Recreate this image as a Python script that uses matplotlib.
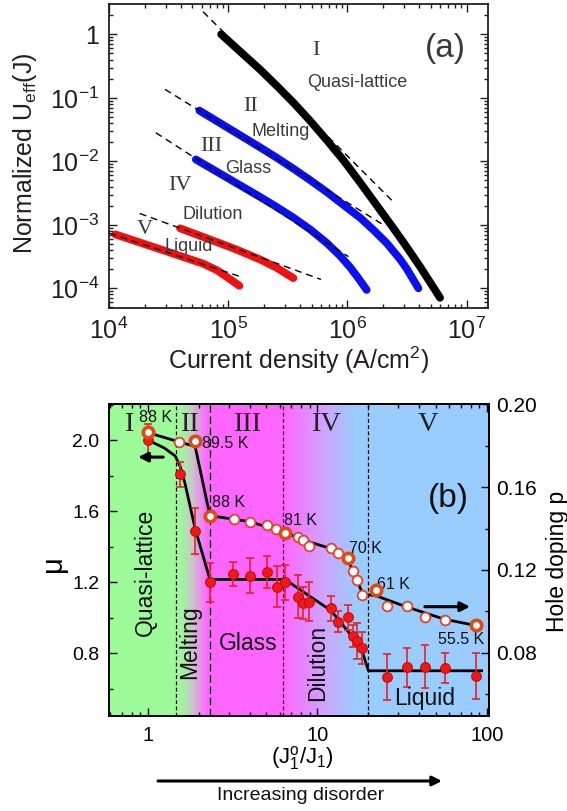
import numpy as np
import matplotlib
matplotlib.use('Agg')
import matplotlib.pyplot as plt
from matplotlib.ticker import LogLocator, NullFormatter, FixedLocator, FixedFormatter, MultipleLocator
from matplotlib.colors import to_rgb

plt.rcParams['font.family'] = ['Liberation Sans', 'DejaVu Sans']
plt.rcParams['mathtext.fontset'] = 'custom'
plt.rcParams['mathtext.rm'] = 'Liberation Sans'
plt.rcParams['mathtext.it'] = 'Liberation Sans:italic'
plt.rcParams['mathtext.bf'] = 'Liberation Sans:bold'

# ---------------- Panel (a) data ----------------
black_J = [8.73e4, 1.85e5, 2.55e5, 3.52e5, 4.85e5, 6.70e5, 9.25e5, 1.28e6, 1.76e6, 2.43e6, 3.14e6, 4.06e6, 4.93e6, 5.98e6]
black_U = [1.0, 0.279, 0.155, 0.0841, 0.0437, 0.0216, 0.0104, 4.62e-3, 2.03e-3, 8.85e-4, 4.47e-4, 2.20e-4, 1.25e-4, 7.1e-5]

blue2_J = [5.73e4, 1.85e5, 2.55e5, 3.52e5, 4.85e5, 6.70e5, 9.25e5, 1.28e6, 1.65e6, 2.14e6, 2.76e6, 3.14e6, 3.94e6]
blue2_U = [0.0631, 0.0166, 0.0114, 7.67e-3, 5.08e-3, 3.29e-3, 2.06e-3, 1.29e-3, 8.32e-4, 5.13e-4, 2.88e-4, 2.04e-4, 1.0e-4]

blue3_J = [5.35e4, 1.85e5, 2.55e5, 3.52e5, 4.85e5, 6.70e5, 8.65e5, 1.05e6, 1.23e6, 1.45e6]
blue3_U = [0.0107, 2.75e-3, 1.91e-3, 1.30e-3, 8.51e-4, 5.19e-4, 3.27e-4, 2.16e-4, 1.46e-4, 9.44e-5]

red4_J = [3.95e4, 8.13e4, 1.16e5, 1.85e5, 2.55e5, 3.52e5]
red4_U = [8.81e-4, 5.31e-4, 4.12e-4, 2.85e-4, 2.11e-4, 1.45e-4]

red5_J = [1.13e4, 2.85e4, 6.15e4, 8.13e4, 1.24e5]
red5_U = [7.08e-4, 3.98e-4, 2.45e-4, 1.91e-4, 1.10e-4]

# power-law fits (dashed), end points
fit_black_J = [6.15e4, 2.43e6]; fit_black_U = [2.27, 2.29e-3]
fit_blue2_J = [2.95e4, 2.0e6]; fit_blue2_U = [0.136, 1.0e-3]
fit_blue3_J = [2.47e4, 1.02e6]; fit_blue3_U = [0.0282, 3.16e-4]
fit_red4_J = [1.81e4, 6.0e5]; fit_red4_U = [1.51e-3, 1.38e-4]
fit_red5_J = [1.0e4, 1.24e5]; fit_red5_U = [7.41e-4, 1.55e-4]

a_xticks = [1e4, 1e5, 1e6, 1e7]
a_xticklabels = [r'$\mathregular{10^{4}}$', r'$\mathregular{10^{5}}$', r'$\mathregular{10^{6}}$', r'$\mathregular{10^{7}}$']
a_yticks = [1e-4, 1e-3, 1e-2, 1e-1, 1]
a_yticklabels = [r'$\mathregular{10^{-4}}$', r'$\mathregular{10^{-3}}$', r'$\mathregular{10^{-2}}$', r'$\mathregular{10^{-1}}$', '1']

# ---------------- Panel (b) data ----------------
mu_x = [1.0, 1.545, 1.89, 2.32, 3.19, 4.0, 5.01, 5.74, 6.43, 7.64, 8.18, 8.95, 12.1, 13.3, 15.2, 16.3, 17.2, 18.2, 25.8, 33.6, 43.1, 56.5, 86.1]
mu = [2.0, 1.808, 1.489, 1.198, 1.245, 1.236, 1.258, 1.174, 1.198, 1.117, 1.080, 1.089, 1.052, 0.976, 1.001, 0.896, 0.869, 0.830, 0.667, 0.719, 0.723, 0.714, 0.670]
mu_err = [0.09, 0.07, 0.13, 0.11, 0.07, 0.10, 0.09, 0.115, 0.10, 0.12, 0.09, 0.11, 0.07, 0.06, 0.07, 0.06, 0.10, 0.09, 0.13, 0.11, 0.12, 0.085, 0.13]
mu_fit_x = [1.0, 1.25, 1.45, 1.55, 1.65, 1.9, 2.32, 6.43, 9.0, 12.0, 15.5, 18.2, 20.0, 93.0]
mu_fit = [2.0, 1.955, 1.91, 1.85, 1.76, 1.5, 1.215, 1.215, 1.12, 1.04, 0.91, 0.82, 0.70, 0.70]

p_x = [1.0, 1.53, 1.89, 2.32, 3.23, 4.0, 5.01, 5.69, 6.43, 7.64, 8.26, 8.95, 12.0, 13.3, 15.2, 16.1, 17.2, 18.2, 22.3, 25.8, 33.6, 43.1, 56.5, 86.1]
p = [0.1867, 0.1818, 0.1823, 0.1462, 0.1446, 0.1433, 0.1417, 0.1398, 0.1380, 0.1360, 0.1345, 0.1316, 0.1305, 0.1283, 0.1256, 0.1195, 0.1152, 0.1080, 0.1104, 0.1028, 0.1027, 0.0975, 0.0959, 0.0935]
p_labelled = [0, 2, 3, 8, 14, 18, 23]
p_labels = ['88 K', '89.5 K', '88 K', '81 K', '70 K', '61 K', '55.5 K']
p_fit_x = [1.0, 1.9, 2.32, 4.0, 6.43, 9.0, 12.0, 14.5, 15.2, 16.1, 17.2, 18.5, 22.3, 33.6, 56.5, 93.0]
p_fit = [0.1862, 0.1795, 0.1462, 0.1433, 0.1380, 0.1335, 0.1303, 0.1270, 0.1250, 0.1195, 0.1145, 0.1085, 0.1075, 0.1022, 0.0962, 0.0927]

boundaries = [1.46, 2.32, 6.3, 20.0]
regimes = ['I', 'II', 'III', 'IV', 'V']
regime_names = ['Quasi-lattice', 'Melting', 'Glass', 'Dilution', 'Liquid']

b_xticks = [1, 10, 100]
b_xticklabels = ['1', '10', '100']
mu_ticks = [0.8, 1.2, 1.6, 2.0]
mu_ticklabels = ['0.8', '1.2', '1.6', '2.0']
p_ticks = [0.08, 0.12, 0.16, 0.20]
p_ticklabels = ['0.08', '0.12', '0.16', '0.20']

TXT = '#231F20'
GRAY = '#3A3A3A'

fig = plt.figure(figsize=(5.67, 8.11), dpi=100)

# ================= Panel (a) =================
axa = fig.add_axes([0.1922, 0.6202, 0.6685, 0.3745])
axa.set_xscale('log'); axa.set_yscale('log')
axa.set_xlim(1e4, 1.51e7)
axa.set_ylim(4.9e-5, 2.97)

curve_kw = dict(lw=5.6, solid_capstyle='round', solid_joinstyle='round', zorder=2)
axa.plot(black_J, black_U, color='black', **curve_kw)
axa.plot(blue2_J, blue2_U, color='#0A10F0', **curve_kw)
axa.plot(blue3_J, blue3_U, color='#0A10F0', **curve_kw)
axa.plot(red4_J, red4_U, color='#F01010', **curve_kw)
axa.plot(red5_J, red5_U, color='#F01010', **curve_kw)

fit_kw = dict(color='black', lw=1.0, dashes=(5, 3.5), zorder=3)
for fj, fu in [(fit_black_J, fit_black_U), (fit_blue2_J, fit_blue2_U), (fit_blue3_J, fit_blue3_U),
               (fit_red4_J, fit_red4_U), (fit_red5_J, fit_red5_U)]:
    axa.plot(fj, fu, **fit_kw)

axa.xaxis.set_major_locator(FixedLocator(a_xticks))
axa.xaxis.set_major_formatter(FixedFormatter(a_xticklabels))
axa.xaxis.set_minor_locator(LogLocator(base=10, subs=np.arange(2, 10), numticks=100))
axa.xaxis.set_minor_formatter(NullFormatter())
axa.yaxis.set_major_locator(FixedLocator(a_yticks))
axa.yaxis.set_major_formatter(FixedFormatter(a_yticklabels))
axa.yaxis.set_minor_locator(LogLocator(base=10, subs=np.arange(2, 10), numticks=100))
axa.yaxis.set_minor_formatter(NullFormatter())
axa.tick_params(which='both', direction='in', top=True, right=True, colors=TXT, width=1.0)
axa.tick_params(which='major', length=6, labelsize=18, pad=7)
axa.tick_params(which='minor', length=3)
for s in axa.spines.values():
    s.set_linewidth(1.3); s.set_color(TXT)

axa.set_xlabel(r'Current density (A/cm$^{\mathregular{2}}$)', fontsize=18, color=TXT, va='center')
axa.xaxis.set_label_coords(0.5, -0.172)
axa.set_ylabel(r'Normalized U$_{\mathregular{eff}}$(J)', fontsize=18, color=TXT, va='center')
axa.yaxis.set_label_coords(-0.222, 0.51)

serif = ['Liberation Serif', 'DejaVu Serif']
a_num_pos = [(0.547, 0.849), (0.3726, 0.665), (0.2702, 0.531), (0.1879, 0.405), (0.095, 0.257)]
a_name_pos = [(0.654, 0.741), (0.4538, 0.5805), (0.3678, 0.46), (0.2749, 0.3085), (0.2098, 0.204)]
for r, (x, y) in zip(regimes, a_num_pos):
    axa.text(x, y, r, transform=axa.transAxes, fontsize=16, family=serif, color=GRAY, ha='center', va='center')
for n, (x, y) in zip(regime_names, a_name_pos):
    axa.text(x, y, n, transform=axa.transAxes, fontsize=13, color=GRAY, ha='center', va='center')
axa.text(0.8865, 0.856, '(a)', transform=axa.transAxes, fontsize=24, color=GRAY, ha='center', va='center')

# ================= Panel (b) =================
axb = fig.add_axes([0.1922, 0.1171, 0.6702, 0.3847])
axb.set_xscale('log')
xlo, xhi = 0.589, 102.8
axb.set_xlim(xlo, xhi)
axb.set_ylim(0.445, 2.203)

# background gradient (style)
green = np.array(to_rgb('#9CFA99'))
gray = np.array(to_rgb('#CBC3CB'))
magenta = np.array(to_rgb('#FF66FF'))
lav = np.array(to_rgb('#CDA6FF'))
blue = np.array(to_rgb('#99CCFF'))
stops = [-0.4, 0.19, 0.265, 0.35, 0.80, 1.05, 1.23, 2.2]
cols = np.array([green, green, gray, magenta, magenta, lav, blue, blue])
edges = np.logspace(np.log10(xlo), np.log10(xhi), 401)
for i in range(len(edges) - 1):
    lx = 0.5 * (np.log10(edges[i]) + np.log10(edges[i + 1]))
    c = [np.interp(lx, stops, cols[:, k]) for k in range(3)]
    axb.axvspan(edges[i], edges[i + 1] * 1.001, color=c, lw=0, antialiased=False, zorder=0)

for k, bx in enumerate(boundaries):
    axb.axvline(bx, color='black', lw=0.9, dashes=(6, 3) if k == 1 else (3, 2), zorder=1)

axb.plot(mu_fit_x, mu_fit, color='black', lw=2.0, zorder=3)
axb.errorbar(mu_x, mu, yerr=mu_err, fmt='none', ecolor='#E8222A', elinewidth=1.2, capsize=3, capthick=1.2, zorder=4)
axb.plot(mu_x, mu, 'o', ms=7, mfc='#F01818', mec='#C80A0A', mew=0.8, zorder=5)

axb.xaxis.set_major_locator(FixedLocator(b_xticks))
axb.xaxis.set_major_formatter(FixedFormatter(b_xticklabels))
axb.xaxis.set_minor_locator(LogLocator(base=10, subs=np.arange(2, 10), numticks=100))
axb.xaxis.set_minor_formatter(NullFormatter())
axb.yaxis.set_major_locator(FixedLocator(mu_ticks))
axb.yaxis.set_major_formatter(FixedFormatter(mu_ticklabels))
axb.yaxis.set_minor_locator(MultipleLocator(0.2))
axb.tick_params(which='both', direction='in', top=True, right=False, colors='black', width=1.0)
axb.tick_params(which='major', length=6, pad=7)
axb.tick_params(axis='x', which='major', labelsize=14.5)
axb.tick_params(axis='y', which='major', labelsize=14)
axb.tick_params(which='minor', length=3)
for s in axb.spines.values():
    s.set_linewidth(1.3)

axb.set_xlabel(r'(J$^{\mathregular{o}}_{\mathregular{1}}$/J$_{\mathregular{1}}$)', fontsize=16, va='center')
axb.xaxis.set_label_coords(0.508, -0.135)
axb.set_ylabel('μ', fontsize=21, va='center')
axb.yaxis.set_label_coords(-0.147, 0.49)

ax2 = axb.twinx()
ax2.set_ylim(0.0496, 0.20)
ax2.plot(p_fit_x, p_fit, color='black', lw=2.0, zorder=3)
ax2.plot(p_x, p, 'o', ms=7, mfc='white', mec='#E8402A', mew=1.3, zorder=5)
ax2.plot([p_x[i] for i in p_labelled], [p[i] for i in p_labelled], 'o', ms=7.5,
         mfc='white', mec='#E04A12', mew=2.6, zorder=6)
ax2.yaxis.set_major_locator(FixedLocator(p_ticks))
ax2.yaxis.set_major_formatter(FixedFormatter(p_ticklabels))
ax2.yaxis.set_minor_locator(MultipleLocator(0.02))
ax2.tick_params(which='both', direction='in', width=1.0)
ax2.tick_params(which='major', length=6, labelsize=15, pad=5)
ax2.tick_params(which='minor', length=3)
ax2.set_ylabel('Hole doping p', fontsize=16.5, va='center', rotation=90)
ax2.yaxis.set_label_coords(1.179, 0.497)
for s in ax2.spines.values():
    s.set_linewidth(1.3)

# regime labels
b_num_pos = [(0.0508, 0.933), (0.2113, 0.933), (0.3624, 0.933), (0.571, 0.936), (0.8403, 0.936)]
for r, (x, y) in zip(regimes, b_num_pos):
    axb.text(x, y, r, transform=axb.transAxes, fontsize=20.5, family=serif, color='#222222', ha='center', va='center', zorder=7)
b_name_spec = [((0.0947, 0.4615), 90), ((0.213, 0.237), 90), ((0.3666, 0.233), 0), ((0.5487, 0.17), 90), ((0.8316, 0.0567), 0)]
for n, ((x, y), rot) in zip(regime_names, b_name_spec):
    axb.text(x, y, n, transform=axb.transAxes, fontsize=16.5, rotation=rot, color='#111111', ha='center', va='center', zorder=7)

temp_pos = [(0.123, 0.956), (0.305, 0.872), (0.314, 0.685), (0.505, 0.626), (0.676, 0.5375), (0.748, 0.422), (0.926, 0.246)]
for t, (x, y) in zip(p_labels, temp_pos):
    axb.text(x, y, t, transform=axb.transAxes, fontsize=11.5, color='#111111', ha='center', va='center', zorder=7)

axb.text(0.893, 0.698, '(b)', transform=axb.transAxes, fontsize=24, color='#111111', ha='center', va='center', zorder=7)

# direction arrows
axb.annotate('', xy=(0.876, 1.904), xytext=(1.23, 1.904),
             arrowprops=dict(arrowstyle='-|>', lw=2.2, color='black', mutation_scale=14, shrinkA=0, shrinkB=0), zorder=8)
ax2.annotate('', xy=(79.5, 0.1023), xytext=(43.0, 0.1023),
             arrowprops=dict(arrowstyle='-|>', lw=2.2, color='black', mutation_scale=14, shrinkA=0, shrinkB=0), zorder=8)

# increasing disorder arrow
fig.patches.append(matplotlib.patches.FancyArrowPatch((0.2787, 0.037), (0.7795, 0.037), transform=fig.transFigure,
                                                      arrowstyle='-|>', lw=2.2, color='black', mutation_scale=14,
                                                      shrinkA=0, shrinkB=0))
fig.text(0.531, 0.0197, 'Increasing disorder', fontsize=14, ha='center', va='center', color='#111111')

fig.savefig('out.png', dpi=100)
